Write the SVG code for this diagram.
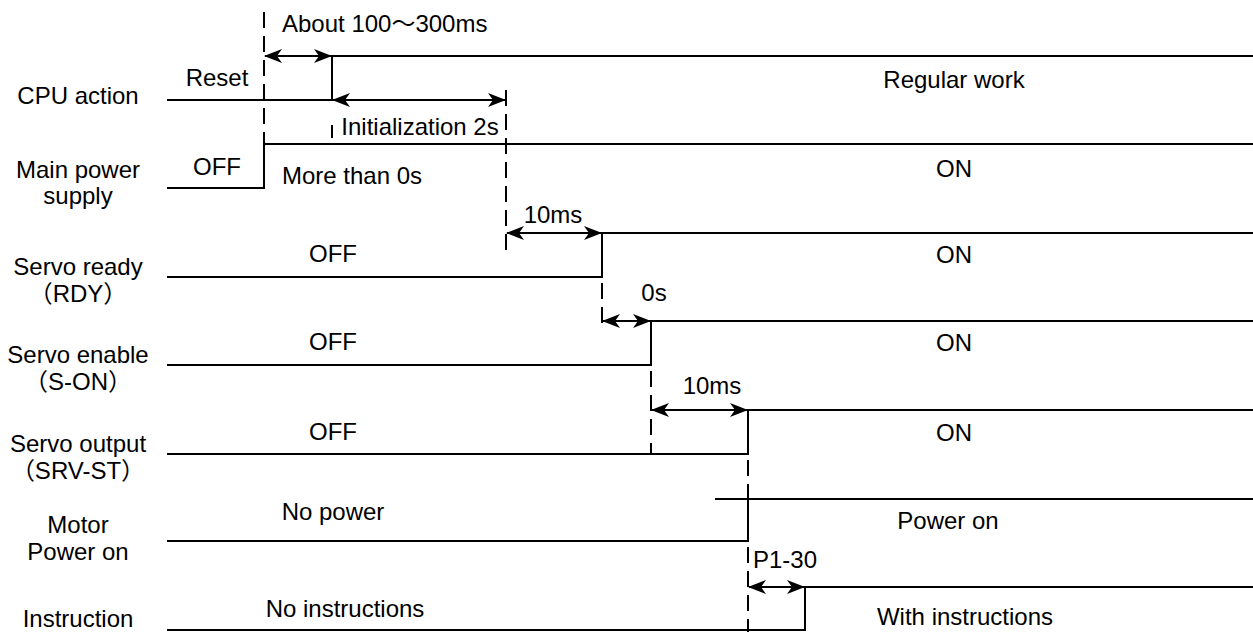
<svg xmlns="http://www.w3.org/2000/svg" width="1253" height="632" viewBox="0 0 1253 632">
<style>
text{font-family:"Liberation Sans","Noto Sans CJK SC",sans-serif;font-size:24px;fill:#000}
.c{text-anchor:middle}
.sig{fill:none;stroke:#000;stroke-width:2}
.dash{fill:none;stroke:#000;stroke-width:2;stroke-dasharray:16 8}
.arr{fill:none;stroke:#000;stroke-width:2;marker-start:url(#ah);marker-end:url(#ah)}
</style>
<defs>
<marker id="ah" viewBox="0 0 18 14" refX="17" refY="7" markerWidth="18" markerHeight="14" markerUnits="userSpaceOnUse" orient="auto-start-reverse">
<path d="M0,0 L18,7 L0,14 L5,7 z" fill="#000"/>
</marker>
</defs>
<rect width="1253" height="632" fill="#fff"/>
<g id="labels">
<text class="c" x="78" y="104">CPU action</text>
<text class="c" x="78" y="178">Main power</text>
<text class="c" x="78" y="204">supply</text>
<text class="c" x="78" y="275">Servo ready</text>
<text class="c" x="78" y="302">（RDY）</text>
<text class="c" x="78" y="363">Servo enable</text>
<text class="c" x="78" y="390">（S-ON）</text>
<text class="c" x="78" y="452">Servo output</text>
<text class="c" x="78" y="479">（SRV-ST）</text>
<text class="c" x="78" y="533">Motor</text>
<text class="c" x="78" y="560">Power on</text>
<text class="c" x="78" y="627">Instruction</text>
</g>
<g id="cpu">
<path class="sig" d="M167,100 H332 V56 H1253"/>
<text class="c" x="217" y="86">Reset</text>
<text class="c" x="954" y="88">Regular work</text>
</g>
<g id="main-power">
<path class="sig" d="M167,188 H264 V144 H1253"/>
<text class="c" x="217" y="175">OFF</text>
<text x="282" y="184">More than 0s</text>
<text class="c" x="954" y="177">ON</text>
</g>
<g id="servo-ready">
<path class="sig" d="M167,277 H602 V233 H1253"/>
<text class="c" x="333" y="262">OFF</text>
<text class="c" x="954" y="263">ON</text>
</g>
<g id="servo-enable">
<path class="sig" d="M167,365 H651 V321 H1253"/>
<text class="c" x="333" y="350">OFF</text>
<text class="c" x="954" y="351">ON</text>
</g>
<g id="servo-output">
<path class="sig" d="M167,454 H748 V410 H1253"/>
<text class="c" x="333" y="440">OFF</text>
<text class="c" x="954" y="441">ON</text>
</g>
<g id="motor">
<path class="sig" d="M167,541 H748 V499"/>
<path class="sig" d="M715,499 H1253"/>
<text class="c" x="333" y="520">No power</text>
<text class="c" x="948" y="529">Power on</text>
</g>
<g id="instruction">
<path class="sig" d="M167,630 H805 V587 H1253"/>
<text class="c" x="345" y="617">No instructions</text>
<text class="c" x="965" y="625">With instructions</text>
</g>
<g id="connectors">
<line class="dash" x1="264" y1="12" x2="264" y2="144"/>
<line class="sig" x1="332" y1="125" x2="332" y2="138"/>
<line class="dash" x1="506" y1="90" x2="506" y2="258"/>
<line class="dash" x1="602" y1="283" x2="602" y2="326"/>
<line class="dash" x1="651" y1="371" x2="651" y2="454"/>
<line class="dash" x1="748" y1="460" x2="748" y2="499"/>
<line class="dash" x1="748" y1="547" x2="748" y2="632"/>
<line class="arr" x1="265" y1="56" x2="331" y2="56"/>
<line class="arr" x1="333" y1="100" x2="505" y2="100"/>
<line class="arr" x1="507" y1="233" x2="601" y2="233"/>
<line class="arr" x1="603" y1="321" x2="650" y2="321"/>
<line class="arr" x1="652" y1="410" x2="747" y2="410"/>
<line class="arr" x1="749" y1="587" x2="804" y2="587"/>
<text x="282" y="32">About 100～300ms</text>
<text class="c" x="420" y="135">Initialization 2s</text>
<text class="c" x="553" y="223">10ms</text>
<text class="c" x="654" y="301">0s</text>
<text class="c" x="712" y="394">10ms</text>
<text x="753" y="568">P1-30</text>
</g>
</svg>
